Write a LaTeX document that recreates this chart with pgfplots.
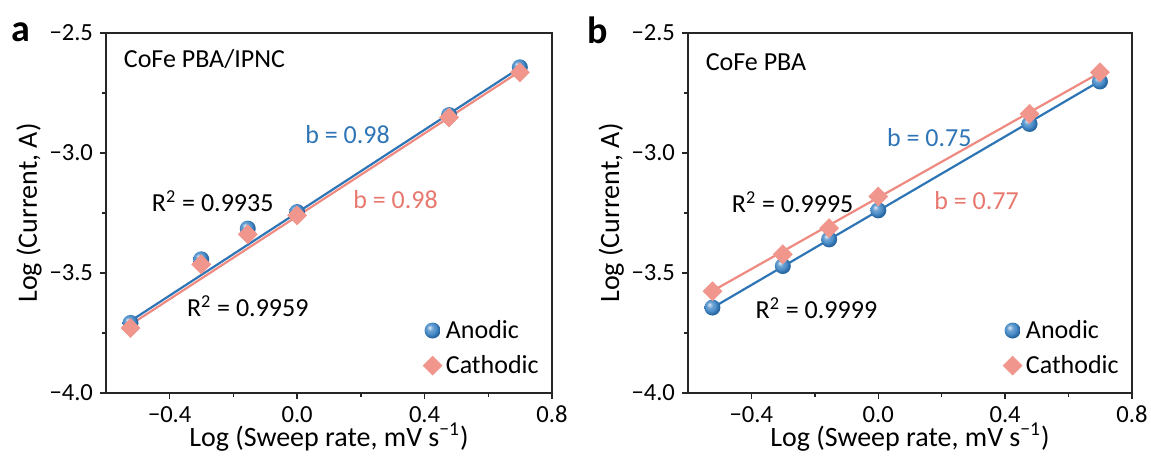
\documentclass[border=0pt]{standalone}
\usepackage{fontspec}
\setmainfont{Carlito}
\usepackage{pgfplots}
\pgfplotsset{compat=1.18}
\definecolor{cblue}{HTML}{2E75B6}
\definecolor{cball}{HTML}{4A8CC8}
\definecolor{cred}{HTML}{F0968C}
\definecolor{credtext}{HTML}{E8786E}
\definecolor{cline}{HTML}{EE8A80}
\pgfdeclareradialshading{myball}{\pgfqpoint{-10bp}{10bp}}{color(0bp)=(cball!15!white); color(9bp)=(cball!80!white); color(18bp)=(cball); color(25bp)=(cblue!90!black); color(50bp)=(cblue!75!black)}
\pgfdeclareplotmark{myball}{\pgfpathcircle{\pgfpointorigin}{\pgfplotmarksize}\pgfshadepath{myball}{0}\pgfusepath{}}
\tikzset{txt/.style={font=\fontsize{13}{15}\selectfont, inner sep=0pt}}
\pgfplotsset{
  panel/.style={
    scale only axis, width=223pt, height=180pt,
    xmin=-0.6, xmax=0.8, ymin=-4.0, ymax=-2.5,
    xtick={-0.4,0,0.4,0.8}, xticklabels={−0.4,0.0,0.4,0.8},
    ytick={-4,-3.5,-3,-2.5}, yticklabels={−4.0,−3.5,−3.0,−2.5},
    minor xtick={-0.2,0.2,0.6}, minor ytick={-3.75,-3.25,-2.75},
    tick align=outside, xtick pos=bottom, ytick pos=left,
    major tick length=3pt, minor tick length=2pt,
    every tick/.style={black!85, line width=0.7pt},
    axis line style={line width=0.7pt, black!85},
    ticklabel style={font=\fontsize{12.3}{14}\selectfont},
    label style={font=\fontsize{14}{16}\selectfont},
    xlabel={Log (Sweep rate, mV s\textsuperscript{−1})},
    ylabel={Log (Current, A)},
    xlabel style={yshift=4.5pt, inner sep=1pt},
    ylabel style={yshift=-3pt},
    legend style={draw=none, fill=none, font=\fontsize{13}{15}\selectfont,
      anchor=north east, at={(0.98,0.215)}, row sep=3pt, inner sep=0pt},
    legend cell align=left,
  },
  anod/.style={only marks, mark=myball, mark size=4pt},
  cath/.style={only marks, mark=square*, mark size=3.3pt, color=cred, mark options={rotate=45, fill=cred, draw=none}},
}
\begin{document}
\begin{tikzpicture}
\path[use as bounding box] (0,0) rectangle (575.5pt,228.5pt);
\begin{axis}[panel, at={(53pt,32pt)}, anchor=south west]
\addplot[anod] coordinates {(-0.523,-3.708) (-0.301,-3.443) (-0.155,-3.315) (0,-3.246) (0.477,-2.842) (0.699,-2.643)};
\addlegendentry{Anodic}
\addplot[cath] coordinates {(-0.523,-3.729) (-0.301,-3.464) (-0.155,-3.339) (0,-3.260) (0.477,-2.852) (0.699,-2.664)};
\addlegendentry{Cathodic}
\addplot[cline, line width=1.1pt, forget plot] coordinates {(-0.523,-3.715) (0.699,-2.660)};
\addplot[cblue, line width=1.1pt, forget plot] coordinates {(-0.523,-3.700) (0.699,-2.645)};
\node[txt, anchor=west] at (axis cs:-0.545,-2.61) {CoFe PBA/IPNC};
\node[txt, text=cblue] at (axis cs:0.158,-2.925) {b = 0.98};
\node[txt] at (axis cs:-0.265,-3.20) {R\textsuperscript{2} = 0.9935};
\node[txt, text=credtext] at (axis cs:0.309,-3.193) {b = 0.98};
\node[txt] at (axis cs:-0.155,-3.638) {R\textsuperscript{2} = 0.9959};
\end{axis}
\begin{axis}[panel, width=222pt, at={(344pt,32pt)}, anchor=south west]
\addplot[anod] coordinates {(-0.523,-3.644) (-0.301,-3.471) (-0.155,-3.360) (0,-3.239) (0.477,-2.879) (0.699,-2.702)};
\addlegendentry{Anodic}
\addplot[cath] coordinates {(-0.523,-3.576) (-0.301,-3.422) (-0.155,-3.313) (0,-3.181) (0.477,-2.837) (0.699,-2.664)};
\addlegendentry{Cathodic}
\addplot[cline, line width=1.1pt, forget plot] coordinates {(-0.523,-3.575) (0.699,-2.665)};
\addplot[cblue, line width=1.1pt, forget plot] coordinates {(-0.523,-3.645) (0.699,-2.700)};
\node[txt, anchor=west] at (axis cs:-0.545,-2.62) {CoFe PBA};
\node[txt, text=cblue] at (axis cs:0.161,-2.934) {b = 0.75};
\node[txt] at (axis cs:-0.27,-3.205) {R\textsuperscript{2} = 0.9995};
\node[txt, text=credtext] at (axis cs:0.31,-3.198) {b = 0.77};
\node[txt] at (axis cs:-0.195,-3.648) {R\textsuperscript{2} = 0.9999};
\end{axis}
\node[font=\fontsize{19}{21}\selectfont\bfseries] at (10.5pt,212.5pt) {a};
\node[font=\fontsize{19}{21}\selectfont\bfseries] at (299pt,213.5pt) {b};
\end{tikzpicture}
\end{document}
